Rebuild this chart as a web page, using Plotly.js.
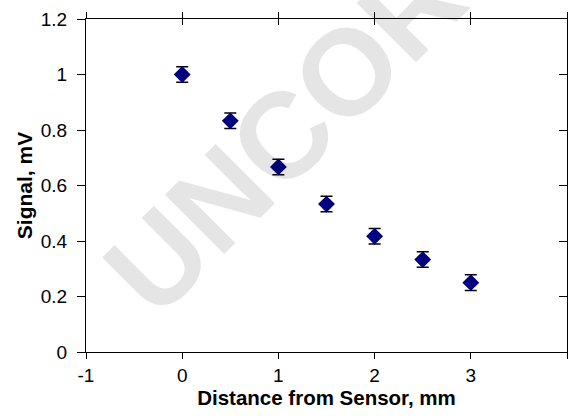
<!DOCTYPE html>
<html>
<head>
<meta charset="utf-8">
<script src="https://cdn.plot.ly/plotly-3.0.1.min.js"></script>
<style>html,body{margin:0;padding:0;background:#fff;}#chart{width:569px;height:416px;}</style>
</head>
<body>
<div id="chart"></div>
<script>
// Data
const distance = [0, 0.5, 1, 1.5, 2, 2.5, 3];
const signal = [1.0, 0.833, 0.667, 0.533, 0.417, 0.333, 0.25];
const signalErr = [0.028, 0.028, 0.028, 0.028, 0.028, 0.028, 0.028];
const xTickVals = [-1, 0, 1, 2, 3, 4];
const xTickText = ["-1", "0", "1", "2", "3", "4"];
const yTickVals = [0, 0.2, 0.4, 0.6, 0.8, 1, 1.2];
const yTickText = ["0", "0.2", "0.4", "0.6", "0.8", "1", "1.2"];
const xTitle = "Distance from Sensor, mm";
const yTitle = "Signal, mV";
const watermark = "UNCORRECTED";

const font = "Arial, 'Liberation Sans', Helvetica, sans-serif";

const traces = [
  {x: [], y: [], xaxis: 'x2', yaxis: 'y', showlegend: false, hoverinfo: 'skip'},
  {x: [], y: [], xaxis: 'x3', yaxis: 'y', showlegend: false, hoverinfo: 'skip'},
  {x: [], y: [], xaxis: 'x', yaxis: 'y2', showlegend: false, hoverinfo: 'skip'},
  {
    x: distance, y: signal, type: 'scatter', mode: 'markers',
    marker: {symbol: 'diamond', size: 13, color: '#000080', line: {width: 0}},
    error_y: {type: 'data', array: signalErr, visible: true, color: '#000000', thickness: 1.5, width: 6},
    showlegend: false
  }
];

const common = {showgrid: false, zeroline: false, showline: true, linecolor: '#000', linewidth: 1, tickcolor: '#000', tickwidth: 1};

const layout = {
  width: 569, height: 416,
  margin: {l: 86, r: 2, t: 19, b: 64},
  paper_bgcolor: '#fff', plot_bgcolor: 'rgba(0,0,0,0)',
  font: {family: font, size: 19, color: '#000'},
  showlegend: false,
  xaxis: Object.assign({}, common, {
    range: [-1, 4], tickmode: 'array', tickvals: xTickVals, ticktext: xTickText,
    ticks: 'outside', ticklen: 6, automargin: false,
    tickfont: {family: font, size: 19},
    title: {text: xTitle, font: {family: font, size: 20.5, weight: 'bold'}, standoff: 5}
  }),
  xaxis2: Object.assign({}, common, {
    range: [-1, 4], tickmode: 'array', tickvals: xTickVals, overlaying: 'x', anchor: 'y', side: 'top',
    ticks: 'outside', ticklen: 6, showticklabels: false
  }),
  xaxis3: Object.assign({}, common, {
    range: [-1, 4], tickmode: 'array', tickvals: xTickVals, overlaying: 'x', anchor: 'y', side: 'top',
    ticks: 'inside', ticklen: 6, showticklabels: false
  }),
  yaxis: Object.assign({}, common, {
    range: [0, 1.2], tickmode: 'array', tickvals: yTickVals, ticktext: yTickText,
    ticks: 'outside', ticklen: 8, automargin: false, ticklabelstandoff: 6,
    tickfont: {family: font, size: 19},
    title: {text: yTitle, font: {family: font, size: 21, weight: 'bold'}, standoff: 2}
  }),
  yaxis2: Object.assign({}, common, {
    range: [0, 1.2], tickmode: 'array', tickvals: yTickVals, overlaying: 'y', anchor: 'x', side: 'right',
    ticks: 'inside', ticklen: 8, showticklabels: false
  }),
  annotations: [{
    text: watermark, xref: 'paper', yref: 'paper', x: 0.782, y: 1.185,
    xanchor: 'center', yanchor: 'middle', showarrow: false, textangle: -45,
    font: {family: font, size: 122, weight: 'bold', color: 'rgba(0,0,0,0.1)'}
  }]
};

Plotly.newPlot('chart', traces, layout, {staticPlot: true, displayModeBar: false});
</script>
</body>
</html>
